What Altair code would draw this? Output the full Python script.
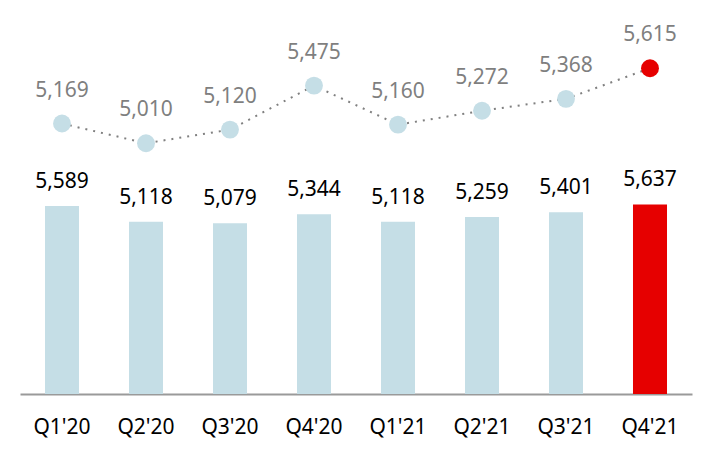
import altair as alt
import pandas as pd

quarters = ["Q1'20", "Q2'20", "Q3'20", "Q4'20", "Q1'21", "Q2'21", "Q3'21", "Q4'21"]
bar_values = [5589, 5118, 5079, 5344, 5118, 5259, 5401, 5637]
line_values = [5169, 5010, 5120, 5475, 5160, 5272, 5368, 5615]
highlight = [False, False, False, False, False, False, False, True]

df = pd.DataFrame({"q": quarters, "bar": bar_values, "line": line_values, "hl": highlight})

LIGHT = "#c5dee6"
RED = "#e60000"
FONT = "Noto Sans"
FS = 21

x = alt.X("q:N", sort=quarters, title=None,
          scale=alt.Scale(paddingInner=0.595, paddingOuter=0.2975),
          axis=alt.Axis(labelAngle=0, ticks=False, tickSize=0, labelFontSize=FS,
                        labelFont=FONT, labelColor="#000000", labelBaseline="alphabetic",
                        labelPadding=39, domainColor="#9a9a9a", domainWidth=2, grid=False))

ybar = alt.Y("bar:Q", scale=alt.Scale(domain=[0, 11118], nice=False, zero=True), axis=None)
yline = alt.Y("line:Q", scale=alt.Scale(domain=[2988, 6004], nice=False, zero=False), axis=None)

color = alt.condition(alt.datum.hl, alt.value(RED), alt.value(LIGHT))

base = alt.Chart(df)

bars = base.mark_bar().encode(x=x, y=ybar, color=color)
bar_text = base.mark_text(dy=-18, baseline="alphabetic", fontSize=FS, font=FONT,
                          color="#000000").encode(x=x, y=ybar, text=alt.Text("bar:Q", format=",d"))

bar_layer = alt.layer(bars, bar_text)

line = base.mark_line(color="#808080", strokeWidth=2, strokeDash=[2, 6]).encode(x=x, y=yline)
points = base.mark_circle(size=320, opacity=1).encode(x=x, y=yline, color=color)
line_text = base.mark_text(dy=-27, baseline="alphabetic", fontSize=FS, font=FONT,
                           color="#7f7f7f").encode(x=x, y=yline, text=alt.Text("line:Q", format=",d"))

line_layer = alt.layer(line, points, line_text)

chart = alt.layer(bar_layer, line_layer).resolve_scale(y="independent").properties(
    width=672, height=374,
    autosize=alt.AutoSizeParams(type="none"),
    padding={"left": 20, "top": 20, "right": 22, "bottom": 66},
    background="#ffffff",
).configure_view(stroke=None)

chart.save("out.html", embed_options={"renderer": "svg", "actions": False})
